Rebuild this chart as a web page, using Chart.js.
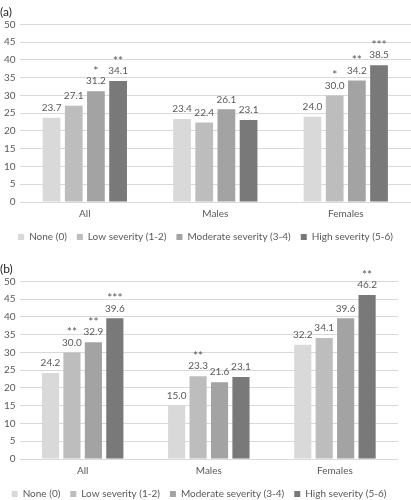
<!DOCTYPE html>
<html>
<head>
<meta charset="utf-8">
<script src="https://cdn.jsdelivr.net/npm/chart.js@4.4.0/dist/chart.umd.min.js"></script>
<style>
  html, body { margin: 0; padding: 0; background: #fff; overflow: hidden; }
  .panel { position: absolute; left: 0; height: 256px; }
  #panelA { top: 0; width: 411px; }
  #panelB { top: 257px; width: 398px; }
</style>
</head>
<body>
<div class="panel" id="panelA"><canvas id="chartA" width="411" height="256"></canvas></div>
<div class="panel" id="panelB"><canvas id="chartB" width="398" height="256"></canvas></div>
<script>
const groups = ['All', 'Males', 'Females'];
const seriesNames = ['None (0)', 'Low severity (1-2)', 'Moderate severity (3-4)', 'High severity (5-6)'];
const seriesColors = ['#d9d9d9', '#bdbdbd', '#a3a3a3', '#797979'];
const yTicks = [0, 5, 10, 15, 20, 25, 30, 35, 40, 45, 50];

// panel (a)
const noneA = [23.7, 23.4, 24.0];
const lowA = [27.1, 22.4, 30.0];
const modA = [31.2, 26.1, 34.2];
const highA = [34.1, 23.1, 38.5];
const noneStarsA = ['', '', ''];
const lowStarsA = ['', '', '*'];
const modStarsA = ['*', '', '**'];
const highStarsA = ['**', '', '***'];

// panel (b)
const noneB = [24.2, 15.0, 32.2];
const lowB = [30.0, 23.3, 34.1];
const modB = [32.9, 21.6, 39.6];
const highB = [39.6, 23.1, 46.2];
const noneStarsB = ['', '', ''];
const lowStarsB = ['**', '**', ''];
const modStarsB = ['**', '', ''];
const highStarsB = ['***', '', '**'];

const FONT = 'Lato';
const TEXT = '#595959';

const valueLabels = {
  id: 'valueLabels',
  afterLayout(chart) {
    // pull the legend a bit closer to the axis labels
    if (chart.legend) { chart.legend.top -= 4; chart.legend.bottom -= 4; }
  },
  afterDatasetsDraw(chart) {
    const ctx = chart.ctx;
    ctx.save();
    ctx.fillStyle = TEXT;
    ctx.textAlign = 'center';
    ctx.textBaseline = 'middle';
    chart.data.datasets.forEach((ds, i) => {
      chart.getDatasetMeta(i).data.forEach((bar, j) => {
        ctx.font = '10px ' + FONT;
        ctx.fillText(ds.data[j].toFixed(1), bar.x, bar.y - 10);
        if (ds.stars[j]) {
          ctx.font = '12px ' + FONT;
          ctx.fillText(ds.stars[j], bar.x, bar.y - 20);
        }
      });
    });
    ctx.restore();
  }
};

function makeChart(id, title, values, stars) {
  new Chart(document.getElementById(id), {
    type: 'bar',
    data: {
      labels: groups,
      datasets: values.map((v, i) => ({
        label: seriesNames[i],
        data: v,
        stars: stars[i],
        backgroundColor: seriesColors[i],
        categoryPercentage: 0.68,
        barPercentage: 0.8
      }))
    },
    options: {
      responsive: false,
      animation: false,
      plugins: {
        title: {
          display: true, text: title, align: 'start', color: '#262626',
          font: { family: FONT, size: 12, weight: 'normal' }, padding: { top: 5, bottom: 5 }
        },
        legend: {
          position: 'bottom',
          labels: { boxWidth: 6, boxHeight: 6, color: TEXT, font: { family: FONT, size: 10 }, padding: 10 }
        },
        tooltip: { enabled: false }
      },
      scales: {
        x: {
          grid: { display: false, drawTicks: false },
          border: { display: false },
          ticks: { color: TEXT, font: { family: FONT, size: 10 }, padding: 6 }
        },
        y: {
          min: 0, max: 50,
          afterBuildTicks: (s) => { s.ticks = yTicks.map((v) => ({ value: v })); },
          grid: { color: '#d9d9d9', drawTicks: false },
          border: { display: false },
          ticks: { color: TEXT, font: { family: FONT, size: 10 }, padding: 4, autoSkip: false }
        }
      }
    },
    plugins: [valueLabels]
  });
}

makeChart('chartA', '(a)', [noneA, lowA, modA, highA], [noneStarsA, lowStarsA, modStarsA, highStarsA]);
makeChart('chartB', '(b)', [noneB, lowB, modB, highB], [noneStarsB, lowStarsB, modStarsB, highStarsB]);
</script>
</body>
</html>
